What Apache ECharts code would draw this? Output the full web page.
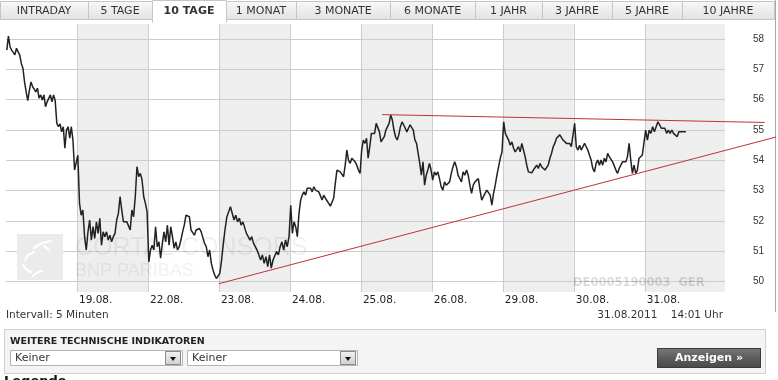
<!DOCTYPE html>
<html><head><meta charset="utf-8">
<script src="https://cdn.jsdelivr.net/npm/echarts@6/dist/echarts.min.js"></script>
<style>html,body{margin:0;padding:0;background:#fff}#c{width:778px;height:380px}</style>
</head><body><div id="c"></div>
<script>
// ---------- DATA ----------
const dayLabels = ['18.08.','19.08.','22.08.','23.08.','24.08.','25.08.','26.08.','29.08.','30.08.','31.08.'];

const day0 = [57.64,58.10,57.75,57.64,57.70,57.48,57.70,57.58,57.48,57.20,57.04,56.59,56.26,55.97,56.32,56.59,56.43,56.49,56.26,56.38,56.05,56.16,55.99,56.16,55.77,55.93,55.90,56.16,55.93,56.16,55.97,55.22,55.11,55.20,54.94,55.11,54.40,55.00,55.11,54.73,55.11,54.67,53.68,53.62];
const day1 = [54.17,52.58,52.19,52.36,51.48,51.04,51.64,52.03,51.37,51.81,51.42,51.97,51.59,52.09,51.20,51.64,51.48,51.64,51.37,51.53,51.31,51.48,51.59,52.03,52.25,52.80,52.36,51.97,52.03,51.97,52.03,51.70,52.36,52.14,52.80,53.79,53.46,53.57,53.35,52.80,52.58,52.30];
const day2 = [50.65,51.04,51.20,51.04,51.81,51.15,51.31,50.77,51.26,51.64,51.31,51.86,51.20,51.81,51.48,51.10,51.31,51.04,51.15,51.37,51.64,51.86,52.19,52.25,52.14,51.70,51.64,51.53,51.70,51.64,51.75,51.64,51.64,51.26,51.15,50.82,51.04,50.60,50.38,50.21,50.10,50.05];
const day3 = [50.27,50.71,51.26,51.75,52.14,52.19,52.47,52.52,52.03,52.19,51.97,52.09,51.86,51.97,52.03,51.59,51.48,51.37,51.48,51.26,51.31,51.04,51.04,50.71,50.88,50.60,50.82,50.49,50.88,50.44,50.71,50.77,50.99,50.88,51.15,51.31,51.04,51.37,51.15,51.48];
const day4 = [52.52,51.59,51.97,51.81,51.48,52.25,52.69,52.85,52.96,52.85,53.08,53.02,53.08,52.96,53.13,53.02,53.08,52.96,52.91,52.69,52.85,52.75,52.80,52.58,52.49,52.52,52.75,53.24,53.68,53.74,53.62,53.57,53.46,53.84,54.34,54.01,53.90,54.07,54.12,53.95,53.84,53.68,53.57];
const day5 = [54.34,54.67,54.56,54.73,54.07,54.45,54.89,54.84,54.89,55.22,55.17,54.94,54.61,54.56,54.78,55.00,55.06,55.22,55.50,55.33,55.00,54.78,54.67,54.84,55.11,55.27,55.17,55.06,54.94,55.06,55.17,55.11,55.00,54.67,54.56,54.23,53.90,53.51,53.95,53.18,53.51,53.68,53.90,53.68];
const day6 = [53.35,53.62,53.51,53.62,53.40,53.13,53.02,53.29,53.18,53.13,53.29,53.57,53.79,53.95,53.79,53.51,53.40,53.29,53.62,53.51,53.68,53.51,53.18,52.91,53.18,53.29,53.35,53.40,53.02,52.69,52.80,52.85,53.02,53.08,52.85,52.52,52.91,53.18,53.51,53.79,54.07,54.28];
const day7 = [55.27,54.89,54.94,54.67,54.50,54.61,54.40,54.28,54.34,54.45,54.28,54.56,54.34,54.12,53.84,53.62,53.68,53.59,53.68,53.62,53.84,53.73,53.90,53.79,53.84,53.68,53.62,53.84,54.07,54.23,54.45,54.56,54.73,54.67,54.84,54.78,54.67,54.61,54.56,54.50,54.56,54.45,54.50];
const day8 = [55.22,54.45,54.34,54.50,54.34,54.45,54.56,54.45,54.34,54.17,54.01,53.73,53.62,53.90,54.01,53.84,54.01,53.84,54.07,53.95,54.23,54.12,54.07,53.95,54.01,53.68,53.57,53.73,53.84,53.95,54.01,53.95,54.12,54.56,54.01,53.57,53.84,53.57,53.68,54.07,54.07,54.17,54.23];
const day9 = [55.00,54.67,55.00,54.89,55.11,54.94,55.11,55.27,55.17,55.06,55.00,55.06,54.89,55.00,54.89,55.00,54.89,54.94,54.78,54.94,55.00,54.94,55.00,54.94];

const sessionOpen = '09:00';
const sessionClose = '17:30';
const lastDate = '31.08.2011';
const lastTime = '14:01';
const intervalText = 'Intervall: 5 Minuten';

const yTicks = [50,51,52,53,54,55,56,57,58];
const xTicks = [1,2,3,4,5,6,7,8,9];
// trend lines: [day position, price]
const trendUpper = [[5.30,55.51],[10.69,55.25]];
const trendLower = [[3.00,49.93],[10.85,54.77]];

const tabNames = ['INTRADAY','5 TAGE','10 TAGE','1 MONAT','3 MONATE','6 MONATE','1 JAHR','3 JAHRE','5 JAHRE','10 JAHRE'];
const activeTab = 2;

// ---------- BUILD ----------
const dayPrices = [day0,day1,day2,day3,day4,day5,day6,day7,day8,day9];
function toMin(s){const p=s.split(':').map(Number);return p[0]*60+p[1];}
const sessionLen = toMin(sessionClose)-toMin(sessionOpen);
const lastFrac = (toMin(lastTime)-toMin(sessionOpen))/sessionLen;
const priceData = [];
dayPrices.forEach((arr,d)=>{
  const span = d===dayPrices.length-1 ? lastFrac : 1;
  arr.forEach((p,i)=>priceData.push([d+(i+0.5)/arr.length*span, p]));
});
const xMax = 10.13;
const bands = [];
dayLabels.forEach((l,d)=>{ if(d%2===1) bands.push([{xAxis:d},{xAxis:Math.min(d+1,xMax)}]); });
if (dayLabels.length%2===0) bands[bands.length-1][1] = {xAxis:xMax};

// ---------- DECORATION (graphic) ----------
const F = '"DejaVu Sans", Verdana, sans-serif';
const G = [];
const tabEdges = [0,88,152,226,296,390,475,542,612,682,774];
const tabGrad = {type:'linear',x:0,y:0,x2:0,y2:1,colorStops:[{offset:0,color:'#f8f8f8'},{offset:1,color:'#e2e2e2'}]};
const order = tabNames.map((_,i)=>i).filter(i=>i!==activeTab).concat([activeTab]);
order.forEach(i=>{
  const x0=tabEdges[i], x1=tabEdges[i+1], act=i===activeTab;
  G.push({type:'rect', z:10, shape:{x:x0+0.5,y:act?0.5:1.5,width:x1-x0,height:act?22:18},
    style:{fill:act?'#fff':tabGrad, stroke:'#c6c6c6', lineWidth:1}});
  if(act) G.push({type:'rect', z:11, shape:{x:x0+1,y:19,width:x1-x0-1,height:4}, style:{fill:'#fff'}});
  G.push({type:'text', z:12, style:{text:tabNames[i], x:(x0+x1)/2, y:11, align:'center', verticalAlign:'middle',
    font:(act?'bold ':'')+'11px '+F, fill:'#333'}});
});
// right frame line
G.push({type:'line', z:10, shape:{x1:775.5,y1:0,x2:775.5,y2:312}, style:{stroke:'#a8a8a8', lineWidth:1}});
// watermark logo + texts
G.push({type:'rect', z:5, shape:{x:17,y:234,width:46,height:46}, style:{fill:'#ebebeb'}});
[[[34,248],[42,243],[51,241]],[[44,246],[49,250]],[[25,260],[28,255],[34,252]],[[23,265],[27,270],[31,272]],[[33,276],[38,272],[42,271]]].forEach(pts=>{
  G.push({type:'polyline', z:6, shape:{points:pts}, style:{stroke:'#fff', lineWidth:2.2, fill:null, lineCap:'round'}});
});
G.push({type:'text', z:5, style:{text:'CORTAL CONSORS', x:75, y:248, verticalAlign:'middle', font:'25px "Liberation Sans", Arial, sans-serif', fill:'rgba(0,0,0,0.06)'}});
G.push({type:'text', z:5, style:{text:'BNP PARIBAS', x:75, y:271, verticalAlign:'middle', font:'18px "Liberation Sans", Arial, sans-serif', fill:'rgba(0,0,0,0.06)'}});
G.push({type:'text', z:5, style:{text:'DE0005190003  GER', x:573, y:283, verticalAlign:'middle', font:'bold 11.5px '+F, fill:'rgba(0,0,0,0.14)'}});
// bottom texts
G.push({type:'text', z:10, style:{text:intervalText, x:6, y:315, verticalAlign:'middle', font:'10.5px '+F, fill:'#333'}});
G.push({type:'text', z:10, style:{text:lastDate+'    '+lastTime+' Uhr', x:723, y:315, align:'right', verticalAlign:'middle', font:'10.5px '+F, fill:'#333'}});
// indicator box
G.push({type:'rect', z:10, shape:{x:4.5,y:329.5,width:761,height:44}, style:{fill:'#f4f4f4', stroke:'#cfcfcf', lineWidth:1}});
G.push({type:'text', z:11, style:{text:'WEITERE TECHNISCHE INDIKATOREN', x:10, y:342, verticalAlign:'middle', font:'bold 9.5px '+F, fill:'#222'}});
[[10,172],[187,170]].forEach(([x,w])=>{
  G.push({type:'rect', z:11, shape:{x:x+0.5,y:350.5,width:w,height:15}, style:{fill:'#fff', stroke:'#b4b4b4', lineWidth:1}});
  G.push({type:'text', z:12, style:{text:'Keiner', x:x+5, y:358, verticalAlign:'middle', font:'11px '+F, fill:'#333'}});
  const bx = x+w-17;
  G.push({type:'rect', z:12, shape:{x:bx+0.5,y:351.5,width:15,height:13}, style:{fill:{type:'linear',x:0,y:0,x2:0,y2:1,colorStops:[{offset:0,color:'#f2f2f2'},{offset:1,color:'#cfcfcf'}]}, stroke:'#8a8a8a', lineWidth:1}});
  G.push({type:'polygon', z:13, shape:{points:[[bx+5,357],[bx+11,357],[bx+8,361]]}, style:{fill:'#111'}});
});
G.push({type:'rect', z:11, shape:{x:657.5,y:348.5,width:103,height:19}, style:{fill:{type:'linear',x:0,y:0,x2:0,y2:1,colorStops:[{offset:0,color:'#7a7a7a'},{offset:0.5,color:'#5c5c5c'},{offset:1,color:'#4a4a4a'}]}, stroke:'#3a3a3a', lineWidth:1}});
G.push({type:'text', z:12, style:{text:'Anzeigen \u00bb', x:709, y:358, align:'center', verticalAlign:'middle', font:'bold 11px '+F, fill:'#fff'}});
G.push({type:'text', z:10, style:{text:'Legende', x:4, y:375, verticalAlign:'top', font:'bold 13px '+F, fill:'#111'}});

// ---------- CHART ----------
const chart = echarts.init(document.getElementById('c'), null, {renderer:'canvas'});
chart.setOption({
  animation:false,
  backgroundColor:'#fff',
  grid:{left:6, right:53, top:24, bottom:88, containLabel:false, outerBoundsMode:'none'},
  xAxis:{type:'value', min:0, max:xMax,
    axisLine:{show:false}, axisTick:{show:false, customValues:xTicks},
    axisLabel:{customValues:xTicks, formatter:v=>dayLabels[Math.round(v)], align:'left', margin:3,
      fontSize:10.5, fontFamily:'DejaVu Sans', color:'#222', padding:[0,0,0,2]},
    splitLine:{show:true, lineStyle:{color:'#cccccc', width:1}}},
  yAxis:{type:'value', position:'right', min:49.655, max:58.50,
    axisLine:{show:false}, axisTick:{show:false, customValues:yTicks},
    axisLabel:{customValues:yTicks, margin:28, align:'left', fontSize:10, fontFamily:'Liberation Sans', color:'#333'},
    splitLine:{show:true, lineStyle:{color:'#cccccc', width:1}}},
  graphic:{elements:G},
  series:[
    {type:'line', z:-1, data:[], silent:true,
      markArea:{silent:true, z:-1, itemStyle:{color:'rgba(0,0,0,0.067)'}, data:bands}},
    {type:'line', z:3, data:priceData, showSymbol:false, symbol:'none',
      lineStyle:{color:'#222222', width:1.5}}
  ]
});
// trend lines: endpoints mapped through the chart's own scales (they run past the plot edge)
function trendEl(pts){
  const a = chart.convertToPixel({gridIndex:0}, pts[0]);
  const b = chart.convertToPixel({gridIndex:0}, pts[1]);
  return {type:'line', z:20, shape:{x1:a[0],y1:a[1],x2:b[0],y2:b[1]}, style:{stroke:'#c3303a', lineWidth:1}};
}
chart.setOption({graphic:{elements:G.concat([trendEl(trendUpper), trendEl(trendLower)])}});
</script></body></html>
